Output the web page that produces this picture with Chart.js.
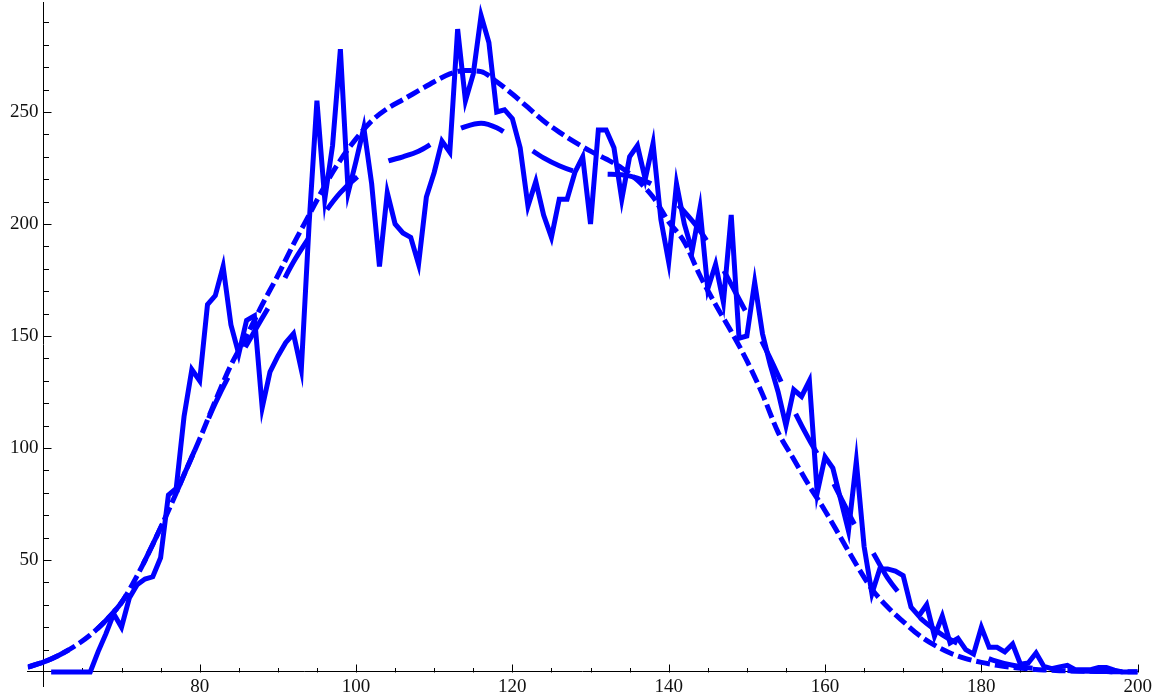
<!DOCTYPE html>
<html>
<head>
<meta charset="utf-8">
<title>Histograma y curvas suavizadas</title>
<script src="https://cdn.jsdelivr.net/npm/chart.js@4.4.1/dist/chart.umd.min.js"></script>
<style>
  html, body { margin: 0; padding: 0; background: #fff; }
  canvas { display: block; }
</style>
</head>
<body>
<canvas id="grafica" width="1156" height="698"></canvas>
<script>
// conteos por valor entero, el primero corresponde a x = 61
const inicio = 61;
const conteos = [
  0, 0, 0, 0, 0, 0, 9, 17, 26, 20,            // 61-70
  33, 39, 41.5, 42.5, 51, 79, 82, 114, 135, 130, // 71-80
  164, 168, 181, 155, 142, 157, 159, 118, 134, 141, // 81-90
  147, 151, 135, 200, 255, 211, 235, 278, 214, 228, // 91-100
  243, 218, 181, 214, 200, 196, 194, 182, 212, 223, // 101-110
  237, 232, 287, 255, 267, 293, 281, 250, 251, 247, // 111-120
  234, 208, 219, 204, 194, 211, 211, 223, 230, 200, // 121-130
  242, 242, 234, 211, 230, 235, 220, 236, 202, 183, // 131-140
  218, 200, 188, 207, 171, 182, 165, 204, 149, 150, // 141-150
  174, 151, 137, 125, 110, 126, 123, 130, 80, 96,   // 151-160
  91, 77, 63, 94, 56, 35, 46, 46, 45, 43,           // 161-170
  29, 25, 30, 16, 25, 13, 15, 10, 8, 20,            // 171-180
  11, 11, 9, 12.5, 3.5, 4, 8.5, 2.5, 1.5, 2.3,      // 181-190
  3, 1, 1, 1, 2, 2, 0.8, 0, 0, 0                    // 191-200
];

// curvas suavizadas, una muestra cada 2 unidades
const xSuave = [58, 60, 62, 64, 66, 68, 70, 72, 74, 76, 78, 80, 82, 84, 86, 88, 90, 92, 94, 96,
  98, 100, 102, 104, 106, 108, 110, 112, 114, 116, 118, 120, 122, 124, 126, 128, 130, 132, 134, 136,
  138, 140, 142, 144, 146, 148, 150, 152, 154, 156, 158, 160, 162, 164, 166, 168, 170, 172, 174, 176,
  178, 180, 182, 184, 186, 188, 190, 192, 194, 196, 198, 200];
const ajusteAncho = [2.2, 4.4, 7.5, 11.5, 16.5, 23, 31, 43, 57, 72, 88, 104, 121, 137, 150, 164, 177, 191, 204, 217,
  228.5, 238, 246, 251.5, 255.5, 259.5, 263.5, 267, 268.5, 268, 263.5, 258, 252, 246, 241, 236.5, 232.5, 229, 225, 219.5,
  212, 201, 192, 177, 164, 152, 139, 124, 107, 95, 83, 72, 60, 48, 37, 29, 22.5, 16.5, 12, 8.5,
  6, 4.3, 3, 2, 1.4, 0.9, 0.6, 0.4, 0.3, 0.2, 0.1, 0.1];
const ajusteCorto = [2.2, 4.4, 7.5, 11.5, 16.5, 23, 31, 43, 57, 72, 88, 104, 120, 134, 146, 158, 170, 183, 194, 205,
  214, 220.5, 225, 228, 230, 232.5, 236.5, 240.5, 243.5, 245, 243, 238.5, 234, 229.5, 226, 223.5, 222.5, 222.2, 222, 220.5,
  217.5, 212.5, 205.5, 197, 186, 173, 160, 147, 132.5, 117, 103.5, 91.5, 78, 64.5, 54, 42, 33, 24.7, 19, 14.5,
  11, 7.3, 4.7, 3, 1.9, 1.2, 0.8, 0.5, 0.3, 0.2, 0.1, 0.1];

const marcasX = [80, 100, 120, 140, 160, 180, 200];
const marcasY = [50, 100, 150, 200, 250];

const azul = "#0000ff";
const fuente = { family: "Liberation Serif", size: 19 };

const puntosConteo = conteos.map((v, i) => ({ x: inicio + i, y: v }));
const puntosAncho = xSuave.map((x, i) => ({ x: x, y: ajusteAncho[i] }));
const puntosCorto = xSuave.map((x, i) => ({ x: x, y: ajusteCorto[i] }));

// marcas cortas hacia dentro, como en los ejes de Mathematica
const marcasInternas = {
  id: "marcasInternas",
  beforeDatasetsDraw(chart) {
    const { ctx, scales } = chart;
    const ex = scales.x, ey = scales.y;
    const y0 = Math.round(ey.getPixelForValue(0)) + 0.5;
    const x0 = Math.round(ex.getPixelForValue(60)) + 0.5;
    ctx.save();
    ctx.strokeStyle = "#000";
    ctx.lineWidth = 1;
    ctx.beginPath();
    for (let v = 65; v <= 200; v += 5) {
      const px = Math.round(ex.getPixelForValue(v)) + 0.5;
      const largo = marcasX.includes(v) ? 8 : 4.5;
      ctx.moveTo(px, y0);
      ctx.lineTo(px, y0 - largo);
    }
    for (let v = 10; v <= 290; v += 10) {
      const py = Math.round(ey.getPixelForValue(v)) + 0.5;
      const largo = marcasY.includes(v) ? 8 : 5.5;
      ctx.moveTo(x0, py);
      ctx.lineTo(x0 + largo, py);
    }
    ctx.stroke();
    ctx.restore();
  }
};

const ctx = document.getElementById("grafica");
new Chart(ctx, {
  type: "line",
  data: {
    datasets: [
      {
        data: puntosConteo,
        borderColor: azul,
        borderWidth: 5,
        pointRadius: 0,
        tension: 0,
        borderJoinStyle: "miter"
      },
      {
        data: puntosCorto,
        borderColor: azul,
        borderWidth: 5,
        pointRadius: 0,
        cubicInterpolationMode: "monotone",
        borderDash: [45, 35]
      },
      {
        data: puntosAncho,
        borderColor: azul,
        borderWidth: 5,
        pointRadius: 0,
        cubicInterpolationMode: "monotone",
        borderDash: [14, 5]
      }
    ]
  },
  options: {
    responsive: false,
    animation: false,
    events: [],
    layout: { padding: { left: 27.7, right: 18.3, top: 2.2, bottom: 12 } },
    plugins: { legend: { display: false }, tooltip: { enabled: false } },
    scales: {
      x: {
        type: "linear",
        min: 58,
        max: 200,
        position: { y: 0 },
        grid: { display: false, drawTicks: false },
        border: { display: true, color: "#000", width: 1 },
        afterBuildTicks: (escala) => { escala.ticks = marcasX.map(v => ({ value: v })); },
        ticks: { font: fuente, color: "#111", padding: 4, maxRotation: 0 }
      },
      y: {
        type: "linear",
        min: -6.25,
        max: 299,
        position: { x: 60 },
        grid: { display: false, drawTicks: false },
        border: { display: true, color: "#000", width: 1 },
        afterBuildTicks: (escala) => { escala.ticks = marcasY.map(v => ({ value: v })); },
        // el espacio final separa la etiqueta del eje
        ticks: { font: fuente, color: "#111", padding: -10, callback: (v) => v + " " }
      }
    }
  },
  plugins: [marcasInternas]
});
</script>
</body>
</html>
